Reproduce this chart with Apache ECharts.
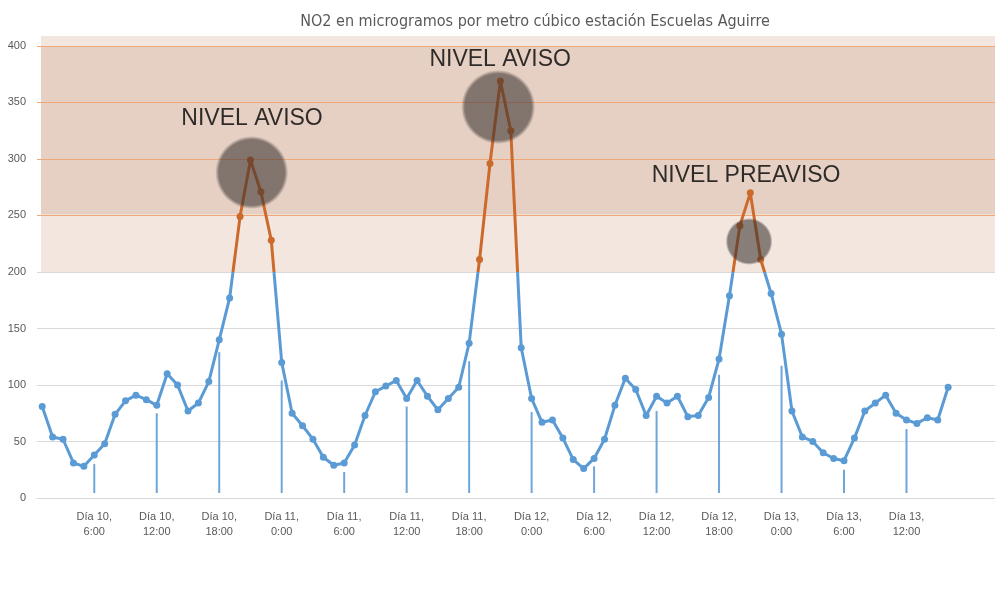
<!DOCTYPE html>
<html><head><meta charset="utf-8">
<script src="https://cdn.jsdelivr.net/npm/echarts@6/dist/echarts.min.js"></script>
<style>html,body{margin:0;padding:0;background:#fff}#c{width:995px;height:612px}</style>
</head><body><div id="c"></div>
<script>
// Hourly NO2 values from Día 10 1:00 to Día 13 16:00
const no2 = [81,54,52,31,28,38,48,74,86,91,87,82,110,100,77,84,103,140,177,249,299,271,228,
  120,75,64,52,36,29,31,47,73,94,99,104,88,104,90,78,88,98,137,211,296,369,325,133,
  88,67,69,53,34,26,35,52,82,106,96,73,90,84,90,72,73,89,123,179,241,270,211,181,
  145,77,54,50,40,35,33,53,77,84,91,75,69,66,71,69,98];
const tickHours = [6,12,18,24,30,36,42,48,54,60,66,72,78,84];
const tickLabels = ['Día 10,\n6:00','Día 10,\n12:00','Día 10,\n18:00','Día 11,\n0:00','Día 11,\n6:00','Día 11,\n12:00','Día 11,\n18:00','Día 12,\n0:00','Día 12,\n6:00','Día 12,\n12:00','Día 12,\n18:00','Día 13,\n0:00','Día 13,\n6:00','Día 13,\n12:00'];
const dropValues = [30,75,129,104,23,81,121,76,28,77,109,117,25,61];
const dropBase = 4.4;
const yTicks = [0,50,100,150,200,250,300,350,400];
const threshold = 200;
const circleCenters = [[21.12,288],[44.79,346],[68.88,227]];
const notes = [{h:21.15,v:336,text:'NIVEL AVISO'},{h:44.98,v:387.6,text:'NIVEL AVISO'},{h:68.6,v:285,text:'NIVEL PREAVISO'}];
const title = 'NO2 en microgramos por metro cúbico estación Escuelas Aguirre';

const BLUE = '#5b9bd5', ORANGE = '#cc6a2c';
const chart = echarts.init(document.getElementById('c'), null, {renderer:'canvas'});
const circleSizes = [73,74,47];
const circleFill = {type:'radial',x:0.5,y:0.5,r:0.5,colorStops:[
  {offset:0,color:'rgba(55,47,45,0.57)'},{offset:0.9,color:'rgba(55,47,45,0.57)'},{offset:1,color:'rgba(55,47,45,0)'}]};
const gridLines = yTicks.filter(v=>v>0).map(v=>({yAxis:v,lineStyle:{color: v>=250 ? '#f1a878' : '#d9d9d9', width:1, type:'solid'}}));
const option = {
  animation:false,
  title:{text:title,left:530,textAlign:'center',top:9,textStyle:{fontFamily:'Liberation Sans Narrow, DejaVu Sans Condensed, sans-serif',fontWeight:'normal',fontSize:16,color:'#595959'}},
  grid:{left:37,right:0,top:36,bottom:114},
  xAxis:{type:'value',min:0.5,max:92.5,splitLine:{show:false},axisTick:{show:false},
    axisLine:{show:true,lineStyle:{color:'#d9d9d9',width:1}},
    axisLabel:{customValues:tickHours,formatter:v=>tickLabels[tickHours.indexOf(v)]||'',color:'#595959',fontSize:11,fontFamily:'Liberation Sans, sans-serif',lineHeight:15,margin:11}},
  yAxis:{type:'value',min:0,max:408.8,splitLine:{show:false},axisLine:{show:false},axisTick:{show:false},
    axisLabel:{customValues:yTicks,color:'#595959',fontSize:11,fontFamily:'Liberation Sans, sans-serif',margin:11}},
  series:[
    {type:'line',data:no2.map((v,i)=>[i+1,v]),symbol:'circle',symbolSize:7,lineStyle:{width:3,color:BLUE},z:3,
      itemStyle:{color:p=>p.value[1]>threshold?ORANGE:BLUE},
      markArea:{silent:true,z:1,data:[
        [{xAxis:0.88,yAxis:200,itemStyle:{color:'#f2e6de'}},{xAxis:92.5,yAxis:408.8}],
        [{xAxis:0.88,yAxis:251,itemStyle:{color:'#e5d0c3'}},{xAxis:92.5,yAxis:400}]]},
      markLine:{silent:true,symbol:'none',label:{show:false},z:2,data:gridLines}},
    {type:'custom',data:tickHours.map((h,i)=>[h,dropValues[i]]),z:2,silent:true,
      renderItem:(params,api)=>{
        const top = api.coord([api.value(0), api.value(1)]);
        const bot = api.coord([api.value(0), dropBase]);
        return {type:'rect',shape:{x:top[0]-1,y:top[1],width:2,height:bot[1]-top[1]},style:{fill:'#6fa6da'}};
      }},
    {type:'scatter',data:circleCenters.map((c,i)=>({value:c,symbolSize:circleSizes[i]})),itemStyle:{color:circleFill,opacity:1},z:5,silent:true},
    {type:'scatter',data:notes.map(n=>({value:[n.h,n.v],label:{show:true,formatter:n.text}})),symbolSize:1,itemStyle:{color:'rgba(0,0,0,0)'},z:6,silent:true,
      label:{position:'inside',color:'#000',fontSize:23,fontFamily:'Liberation Sans, Arial, sans-serif'}}
  ]
};
chart.setOption(option);
// colour the line orange above the threshold using the axis scale
const py = chart.convertToPixel({yAxisIndex:0}, threshold);
const off = py/612;
chart.setOption({series:[{lineStyle:{color:{type:'linear',x:0,y:0,x2:0,y2:612,global:true,colorStops:[
  {offset:0,color:ORANGE},{offset:off,color:ORANGE},{offset:off,color:BLUE},{offset:1,color:BLUE}]}}}]});
</script></body></html>
